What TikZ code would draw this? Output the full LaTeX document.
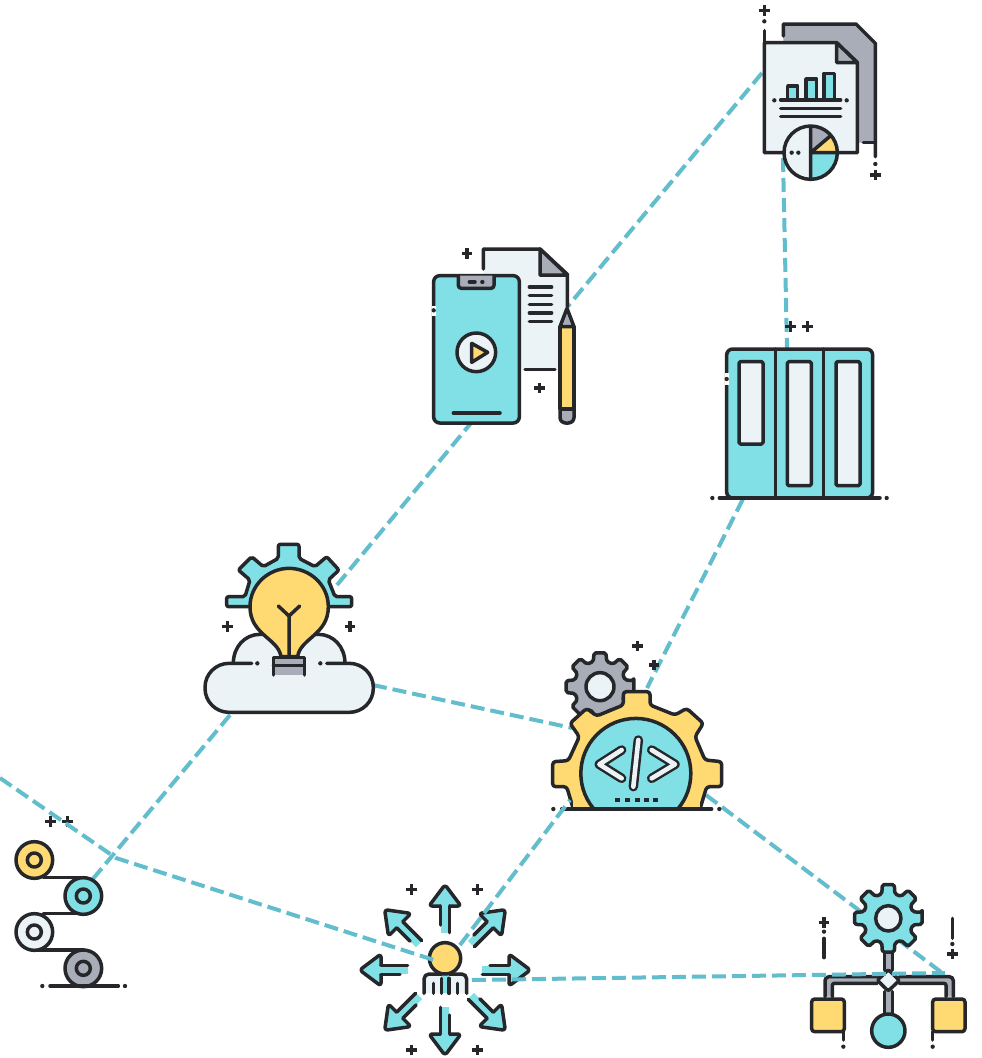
\documentclass[tikz,border=0pt]{standalone}
\begin{document}
\definecolor{teal1}{HTML}{80E0E5}
\definecolor{yel1}{HTML}{FFD972}
\definecolor{gry1}{HTML}{A9ADB8}
\definecolor{lit1}{HTML}{ECF3F7}
\definecolor{drk1}{HTML}{25272B}
\definecolor{lnk1}{HTML}{62BDCD}
\newcommand\plusat[1]{\draw[plusmark,shift={(#1)}] (-16,0) -- (16,0) (0,-16) -- (0,16);}
\newcommand\dotat[1]{\fill[drk1] (#1) circle (6.5);}
% gearshape: n, rout, rroot, half-angle outer, half-angle root, fill
\newcommand\gearshape[6]{%
  \pgfmathsetmacro\gs{360/#1}%
  \pgfmathsetmacro\gl{360-\gs}%
  \draw[icon,fill=#6,rounded corners=1.8pt] (-#4:#2)
    \foreach \a in {0,\gs,...,\gl} {
      -- (\a-#4:#2) -- (\a+#4:#2) -- (\a+#5:#3) -- (\a+\gs-#5:#3)
    } -- cycle;}
\begin{tikzpicture}[x=1pt,y=-1pt,line cap=round,line join=round,
  icon/.style={draw=drk1,line width=3.5pt},
  link/.style={draw=lnk1,line width=4pt,line cap=butt,dash pattern=on 14pt off 6pt},
  plusmark/.style={draw=drk1,line width=3.2pt,line cap=butt},
  zoomed/.style={shift={#1},scale=1/3}]
\useasboundingbox (0,0) rectangle (982,1058);
\fill[white] (0,0) rectangle (982,1058);
% connector ends
\coordinate (docA) at (762,73);
\coordinate (docB) at (783,158);
\coordinate (phone) at (519,365);
\coordinate (bulbA) at (337,585);
\coordinate (bulbB) at (373,685);
\coordinate (bulbC) at (230,715);
\coordinate (colsA) at (787,348);
\coordinate (colsB) at (743,499);
\coordinate (codeA) at (647,688);
\coordinate (codeB) at (572,728);
\coordinate (codeC) at (570,800);
\coordinate (codeD) at (706,795);
\coordinate (roll) at (92,880);
\coordinate (off) at (0,778);
\coordinate (bend) at (116,858);
\coordinate (perA) at (434,960);
\coordinate (perB) at (460,945);
\coordinate (perC) at (472,980);
\coordinate (flowA) at (945,975);
\coordinate (flowB) at (945,973);
% connectors behind icons
\draw[link] (docA) -- (phone);
\draw[link] (bulbA) -- (phone);
\draw[link] (docB) -- (colsA);
\draw[link] (colsB) -- (codeA);
\draw[link] (bulbB) -- (codeB);
\draw[link] (bulbC) -- (roll);
\draw[link] (codeD) -- (flowA);
% DOCUMENT ICON
\begin{scope}[zoomed={(740,0)}]
\fill[gry1] (130,72) -- (348,72) -- (406,130) -- (406,428) -- (340,428) -- (130,130) -- cycle;
\draw[icon] (130,108) -- (130,72) -- (348,72) -- (406,130) -- (406,470);
\draw[icon] (370,428) -- (406,428);
\plusat{73,31}\dotat{73,64}\draw[icon] (73,92) -- (73,130);
\plusat{406,525}\dotat{406,492}
\draw[icon,fill=lit1] (73,128) -- (290,128) -- (352,188) -- (352,458) -- (73,458) -- cycle;
\draw[icon,fill=gry1] (290,128) -- (290,188) -- (352,188) -- cycle;
\fill[teal1] (143,258) rectangle (173,296) (198,237) rectangle (230,296) (252,220) rectangle (284,296);
\draw[icon] (143,296) -- (143,258) -- (173,258) -- (173,296);
\draw[icon] (198,296) -- (198,237) -- (230,237) -- (230,296);
\draw[icon] (252,296) -- (252,220) -- (284,220) -- (284,296);
\draw[icon] (122,300) -- (302,300) (122,325) -- (302,325) (122,350) -- (302,350);
\dotat{103,301}\dotat{320,301}
\fill[lit1] (212,458) circle (80);
\fill[teal1] (212,458) -- (291,458) arc[start angle=0,end angle=90,radius=79] -- cycle;
\fill[yel1] (212,458) -- (291,458) arc[start angle=0,end angle=-40,radius=79] -- cycle;
\fill[gry1] (212,458) -- (272,407) arc[start angle=-40,end angle=-90,radius=79] -- cycle;
\draw[icon] (212,458) circle (80);
\draw[icon] (212,380) -- (212,538) (212,458) -- (291,458) (212,458) -- (272,407);
\dotat{155,458}\dotat{175,458}
\end{scope}
% PHONE ICON
\begin{scope}[zoomed={(420,235)}]
\plusat{141,56}\plusat{358,459}
\fill[lit1] (190,42) -- (360,42) -- (440,118) -- (440,402) -- (190,402) -- cycle;
\draw[icon] (190,102) -- (190,42) -- (360,42) -- (442,118) -- (442,215);
\draw[icon,fill=gry1] (360,42) -- (360,120) -- (442,120) -- cycle;
\draw[icon] (328,156) -- (395,156) (328,182) -- (395,182) (328,208) -- (395,208) (328,234) -- (395,234) (328,260) -- (395,260);
\draw[icon] (315,403) -- (405,403);
\draw[icon,fill=teal1,rounded corners=6pt] (41,122) rectangle (298,564);
\draw[white,line width=4pt,line cap=butt] (41,212) -- (41,242);
\dotat{41,226}
\draw[icon,fill=gry1,rounded corners=3pt] (115,122) -- (115,160) -- (222,160) -- (222,122);
\draw[icon] (148,141) -- (165,141);\dotat{187,141}
\draw[icon,fill=lit1] (169,352) circle (58);
\draw[icon,fill=yel1] (155,325) -- (203,352) -- (155,382) -- cycle;
\draw[icon] (100,534) -- (240,534);
\draw[icon,fill=yel1] (420,275) rectangle (462,522);
\draw[icon,fill=gry1] (420,275) -- (441,220) -- (462,275) -- cycle;
\draw[icon,fill=gry1] (420,522) -- (420,548) .. controls (420,570) and (462,570) .. (462,548) -- (462,522) -- cycle;
\end{scope}
% COLUMNS ICON
\begin{scope}[zoomed={(700,310)}]
\draw[icon,fill=teal1,rounded corners=6pt] (80,117) rectangle (518,564);
\draw[white,line width=4pt,line cap=butt] (80,188) -- (80,224);
\dotat{80,207}
\draw[icon] (226,117) -- (226,564) (371,117) -- (371,564);
\draw[icon,fill=lit1,rounded corners=1.5pt] (117,155) rectangle (189,402);
\draw[icon,fill=lit1,rounded corners=1.5pt] (262,155) rectangle (334,527);
\draw[icon,fill=lit1,rounded corners=1.5pt] (408,155) rectangle (480,527);
\draw[icon] (58,564) -- (540,564);
\dotat{37,564}\dotat{560,564}
\plusat{272,50}\plusat{323,50}
\end{scope}
% BULB ICON
\begin{scope}[zoomed={(195,535)}]
\draw[icon,fill=teal1,rounded corners=2pt] (95,215) -- (95,185) -- (150,185) -- (165,135) -- (130,105) -- (170,65) -- (205,95) -- (250,70) -- (250,28) -- (312,28) -- (312,70) -- (360,95) -- (395,65) -- (432,105) -- (400,135) -- (420,185) -- (470,185) -- (470,215) -- cycle;
\fill[white] (85,222) rectangle (480,280);
\draw[icon,fill=lit1] (115,385) .. controls (115,335) and (150,298) .. (195,298) -- (370,298) .. controls (415,298) and (450,335) .. (450,385);
\fill[lit1] (100,380) -- (100,530) -- (470,530) -- (470,380) -- cycle;
\fill[lit1,rounded corners=24pt] (30,383) rectangle (535,532);
\draw[icon,rounded corners=24pt] (170,385) -- (30,385) -- (30,532) -- (535,532) -- (535,385) -- (395,385);
\dotat{187,385}\dotat{376,385}
\draw[icon,fill=yel1] (258,365) .. controls (250,310) and (165,300) .. (165,215) .. controls (165,150) and (220,100) .. (282,100) .. controls (345,100) and (400,150) .. (400,215) .. controls (400,300) and (315,310) .. (308,365) -- cycle;
\draw[icon] (250,213) -- (282,243) -- (314,213) (282,243) -- (282,365);
\fill[gry1] (235,367) rectangle (328,420);
\draw[icon] (235,420) -- (235,367) -- (328,367) -- (328,420) (235,392) -- (328,392);
\plusat{97,275}\plusat{465,275}
\end{scope}
% CODE GEAR
\begin{scope}[zoomed={(540,630)}]
\begin{scope}[shift={(180,170)}]
\gearshape{8}{103}{78}{10}{15}{gry1}
\draw[icon,fill=lit1] (0,0) circle (42);
\end{scope}
\plusat{292,48}\plusat{342,105}
\draw[icon,fill=yel1,rounded corners=3pt] (100,537) -- (80,470) -- (38,470) -- (38,395) -- (85,392) -- (118,320) -- (90,280) -- (140,235) -- (170,258) -- (250,225) -- (250,185) -- (330,185) -- (330,225) -- (405,255) -- (440,235) -- (490,280) -- (465,320) -- (495,390) -- (545,395) -- (545,470) -- (500,470) -- (480,537);
\fill[yel1] (100,537) -- (480,537) -- (480,500) -- (100,500) -- cycle;
\draw[icon,fill=teal1] (160,535) arc[start angle=140.6,end angle=399.4,radius=165];
\foreach \w/\c in {9.5pt/drk1,4.6pt/lit1}{
 \draw[draw=\c,line width=\w] (245,360) -- (178,403) -- (245,445);
 \draw[draw=\c,line width=\w] (295,330) -- (280,470);
 \draw[draw=\c,line width=\w] (335,360) -- (405,403) -- (335,445);
}
\foreach \x in {232,262,292,320,346}{\draw[drk1,line width=3.4pt,line cap=butt] (\x-7,510) -- (\x+7,510);}
\draw[icon] (65,537) -- (515,537);
\dotat{40,537}\dotat{538,537}
\end{scope}
% ROLLERS
\begin{scope}[zoomed={(0,800)}]
\plusat{152,65}\plusat{203,65}
\draw[icon] (130,233) -- (250,233) (130,340) -- (250,340) (110,450) -- (250,450);
\foreach \x/\y/\c in {103/180/yel1,250/288/teal1,103/396/lit1,250/505/gry1}{
 \draw[icon,fill=\c] (\x,\y) circle (55);
 \draw[icon] (\x,\y) circle (21);
}
\draw[icon] (150,558) -- (355,558);
\dotat{127,558}\dotat{375,558}
\end{scope}
% PERSON
\begin{scope}[zoomed={(350,875)}]
\plusat{185,43}\plusat{382,43}\plusat{185,525}\plusat{382,525}
\begin{scope}[shift={(285,285)}]
\foreach \r in {0,45,...,315}{
\begin{scope}[rotate=\r]
 \fill[teal1] (-13,-195) -- (-13,-110) -- (13,-110) -- (13,-195) -- cycle;
 \draw[icon,fill=teal1,rounded corners=3pt] (-13,-192) -- (-48,-192) -- (0,-256) -- (48,-192) -- (13,-192);
 \fill[teal1] (-11,-195) rectangle (11,-186);
 \draw[icon] (-13,-192) -- (-13,-135) (13,-192) -- (13,-112);
\end{scope}}
\end{scope}
\draw[icon,fill=lit1,rounded corners=5pt] (222,355) -- (222,297) -- (350,297) -- (350,355);
\fill[teal1] (276,300) rectangle (296,355);
\draw[icon] (250,325) -- (250,355) (275,310) -- (275,355) (297,310) -- (297,355) (322,325) -- (322,355);
\draw[icon,fill=yel1] (285,250) circle (47);
\end{scope}
% FLOW ICON
\begin{scope}[zoomed={(800,875)}]
\plusat{72,143}\dotat{72,170}\draw[icon] (72,190) -- (72,248);
\draw[icon] (457,130) -- (457,190);\dotat{457,207}\plusat{457,237}
\fill[gry1] (253,230) rectangle (277,290) (253,345) rectangle (277,420);
\draw[icon] (253,235) -- (253,285) (277,235) -- (277,285) (253,350) -- (253,415) (277,350) -- (277,415);
\fill[gry1] (232,305) -- (75,305) -- (75,365) -- (97,365) -- (97,325) -- (232,325) -- cycle;
\fill[gry1] (298,305) -- (460,305) -- (460,365) -- (438,365) -- (438,325) -- (298,325) -- cycle;
\draw[icon,rounded corners=4pt] (75,365) -- (75,305) -- (232,305);
\draw[icon,rounded corners=2pt] (97,365) -- (97,325) -- (232,325);
\draw[icon,rounded corners=4pt] (460,365) -- (460,305) -- (298,305);
\draw[icon,rounded corners=2pt] (438,365) -- (438,325) -- (298,325);
\begin{scope}[shift={(265,130)}]
\gearshape{8}{103}{76}{10}{15}{teal1}
\draw[icon,fill=lit1] (0,0) circle (38);
\end{scope}
\draw[icon,fill=lit1,rounded corners=2pt] (265,284) -- (298,316) -- (265,348) -- (232,316) -- cycle;
\draw[icon,fill=teal1] (265,467) circle (50);
\draw[icon] (130,470) -- (130,495) (398,470) -- (398,495);
\dotat{130,515}\dotat{398,515}
\draw[icon,fill=yel1,rounded corners=3pt] (35,372) rectangle (133,470);
\draw[icon,fill=yel1,rounded corners=3pt] (398,372) rectangle (495,470);
\end{scope}
% connectors over icons
\draw[link] (off) -- (bend) -- (perA);
\draw[link] (perB) -- (codeC);
\draw[link] (perC) -- (flowB);
\end{tikzpicture}
\end{document}
